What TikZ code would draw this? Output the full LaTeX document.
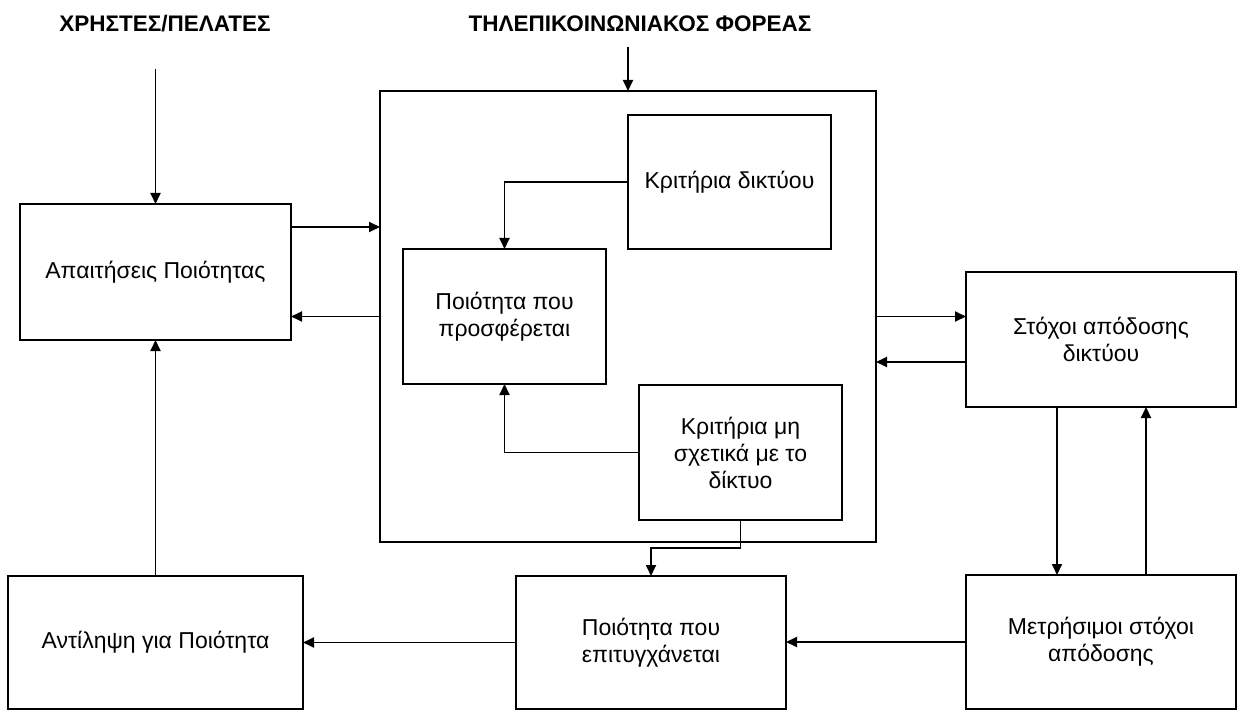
\documentclass[tikz,border=0pt]{standalone}
\usepackage{fontspec}
\setmainfont{Liberation Sans}
\usetikzlibrary{arrows.meta}
\begin{document}
\begin{tikzpicture}[x=1pt,y=-1pt,
  every node/.style={font=\fontsize{23}{27}\selectfont},
  box/.style={draw,line width=1.8pt,align=center,inner sep=0pt,outer sep=0pt},
  heading/.style={font=\fontsize{22.5}{27}\selectfont\bfseries,anchor=base,inner sep=0pt},
  link/.style={line width=1.8pt,-{Triangle[length=11pt,width=10pt]}}]
\useasboundingbox (0,0) rectangle (1241,711);

% headings and their incoming arrows
\node[heading] (users) at (165,32) {ΧΡΗΣΤΕΣ/ΠΕΛΑΤΕΣ};
\node[heading] (provider) at (640,32) {ΤΗΛΕΠΙΚΟΙΝΩΝΙΑΚΟΣ ΦΟΡΕΑΣ};
\coordinate (usersin) at (155.5,69);
\coordinate (provin) at (628,47);

% provider frame
\node[box,minimum width=496pt,minimum height=451pt] (frame) at (628,316.5) {};

% boxes
\node[box,minimum width=271pt,minimum height=136pt] (req) at (155.5,272) {Απαιτήσεις Ποιότητας};
\node[box,minimum width=203pt,minimum height=134pt] (netcrit) at (729.5,182) {Κριτήρια δικτύου};
\node[box,minimum width=203pt,minimum height=135pt] (offered) at (504.5,316.5) {Ποιότητα που\\προσφέρεται};
\node[box,minimum width=203pt,minimum height=135pt] (othercrit) at (740.5,452.5) {Κριτήρια μη\\σχετικά με το\\δίκτυο};
\node[box,minimum width=270pt,minimum height=135pt] (goals) at (1101,339.5) {Στόχοι απόδοσης\\δικτύου};
\node[box,minimum width=270pt,minimum height=134pt] (measured) at (1101,642) {Μετρήσιμοι στόχοι\\απόδοσης};
\node[box,minimum width=270pt,minimum height=133pt] (achieved) at (651,642.5) {Ποιότητα που\\επιτυγχάνεται};
\node[box,minimum width=295pt,minimum height=133pt] (percept) at (155.5,642.5) {Αντίληψη για Ποιότητα};

% connectors
\draw[link] (usersin) -- (usersin |- req.north);
\draw[link] (provin) -- (provin |- frame.north);
\draw[link] ([yshift=45pt]req.east) -- ([yshift=45pt]req.east -| frame.west);
\draw[link] (frame.west) -- (frame.west -| req.east);
\draw[link] (netcrit.west) -| (offered.north);
\draw[link] (othercrit.west) -| (offered.south);
\draw[link] (othercrit.south) -- ++(0,28) -| (achieved.north);
\draw[link] (frame.east) -- (frame.east -| goals.west);
\draw[link] ([yshift=-22.5pt]goals.west) -- ([yshift=-22.5pt]goals.west -| frame.east);
\draw[link] ([xshift=-44pt]goals.south) -- ([xshift=-44pt]measured.north);
\draw[link] ([xshift=45pt]measured.north) -- ([xshift=45pt]goals.south);
\draw[link] (measured.west) -- (measured.west -| achieved.east);
\draw[link] (achieved.west) -- (achieved.west -| percept.east);
\draw[link] (percept.north) -- (req.south);
\end{tikzpicture}
\end{document}
